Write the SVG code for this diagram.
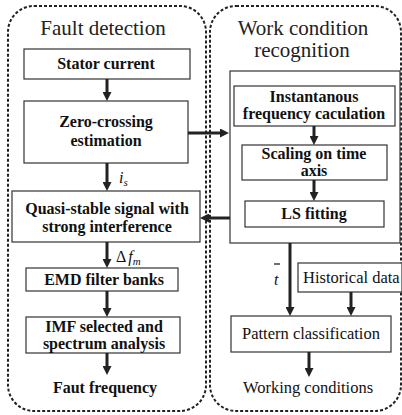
<svg xmlns="http://www.w3.org/2000/svg" width="402" height="415" viewBox="0 0 402 415">
<style>
.cont{fill:none;stroke:#222;stroke-width:2;stroke-dasharray:3 2}
.box{fill:#fff;stroke:#333;stroke-width:1.2}
text{font-family:'Liberation Serif','Times New Roman',Times,serif;fill:#111}
.b{font-weight:bold;font-size:16px;text-anchor:middle}
.r{font-size:16.5px;text-anchor:middle}
.t{font-size:21px;fill:#222;text-anchor:middle}
.lab{font-size:16px}
.c line{stroke:#222;stroke-width:3;marker-end:url(#ah)}
</style>
<defs>
<marker id="ah" viewBox="0 0 10 10" refX="2" refY="5" markerWidth="9" markerHeight="9" markerUnits="userSpaceOnUse" orient="auto">
<path d="M0,0 L10,5 L0,10 z" fill="#222"/>
</marker>
</defs>
<rect class="cont" x="8" y="6" width="198" height="405" rx="26"/>
<rect class="cont" x="210" y="6" width="191" height="405" rx="26"/>
<text class="t" x="103" y="35" font-family="Liberation Serif">Fault detection</text>
<text class="t" x="303" y="35" font-family="Liberation Serif">Work condition</text>
<text class="t" x="302" y="57" font-family="Liberation Serif">recognition</text>

<g id="stator"><rect class="box" x="24" y="49" width="166" height="30"/><text class="b" x="106" y="69">Stator current</text></g>
<g id="zero"><rect class="box" x="24" y="101" width="164" height="62"/><text class="b" x="106" y="127">Zero-crossing</text><text class="b" x="106" y="146">estimation</text></g>
<g id="quasi"><rect class="box" x="12" y="191" width="188" height="51"/><text class="b" x="107" y="214">Quasi-stable signal with</text><text class="b" x="107" y="232">strong interference</text></g>
<g id="emd"><rect class="box" x="26" y="268" width="152" height="23"/><text class="b" x="104" y="285">EMD filter banks</text></g>
<g id="imf"><rect class="box" x="26" y="317" width="154" height="36"/><text class="b" x="104" y="332">IMF selected and</text><text class="b" x="104" y="349">spectrum analysis</text></g>
<g id="fault"><text class="b" x="105" y="393">Faut frequency</text></g>

<g id="wcbox"><rect class="box" x="230" y="71" width="170" height="172"/></g>
<g id="inst"><rect class="box" x="234" y="86" width="161" height="40"/><text class="b" x="314" y="102">Instantanous</text><text class="b" x="314" y="119">frequency caculation</text></g>
<g id="scal"><rect class="box" x="242" y="145" width="145" height="35"/><text class="b" x="314" y="159">Scaling on time</text><text class="b" x="314" y="176">axis</text></g>
<g id="ls"><rect class="box" x="245" y="201" width="139" height="26"/><text class="b" x="314" y="219">LS fitting</text></g>
<g id="hist"><rect class="box" x="298" y="263" width="104" height="29"/><text class="r" x="303" y="283" style="text-anchor:start">Historical data</text></g>
<g id="pattern"><rect class="box" x="231" y="316" width="160" height="36"/><text class="r" x="311" y="339">Pattern classification</text></g>
<g id="working"><text class="r" x="308" y="393">Working conditions</text></g>

<g class="c" id="connectors">
<line x1="107" y1="79" x2="107" y2="93.8"/>
<line x1="188" y1="133" x2="221.8" y2="133"/>
<line x1="107" y1="163" x2="107" y2="183.8"/>
<line x1="107" y1="242" x2="107" y2="260.8"/>
<line x1="107" y1="291" x2="107" y2="309.8"/>
<line x1="107" y1="353" x2="107" y2="367.8"/>
<line x1="314" y1="126" x2="314" y2="137.8"/>
<line x1="314" y1="180" x2="314" y2="193.8"/>
<line x1="230" y1="218" x2="207.2" y2="218"/>
<line x1="290" y1="243" x2="290" y2="308.8"/>
<line x1="351" y1="292" x2="351" y2="308.8"/>
<line x1="309" y1="352" x2="309" y2="369.8"/>
</g>
<g id="labels">
<text class="lab" x="119" y="183"><tspan font-style="italic">i</tspan><tspan font-style="italic" font-size="11" dy="3">s</tspan></text>
<text class="lab" x="116" y="262">Δ<tspan font-style="italic" dx="2">f</tspan><tspan font-style="italic" font-size="11" dy="3">m</tspan></text>
<text class="lab" x="274" y="285" font-style="italic">t</text>
<line x1="274" y1="264" x2="280" y2="264" stroke="#111" stroke-width="1.2"/>
</g>
</svg>
